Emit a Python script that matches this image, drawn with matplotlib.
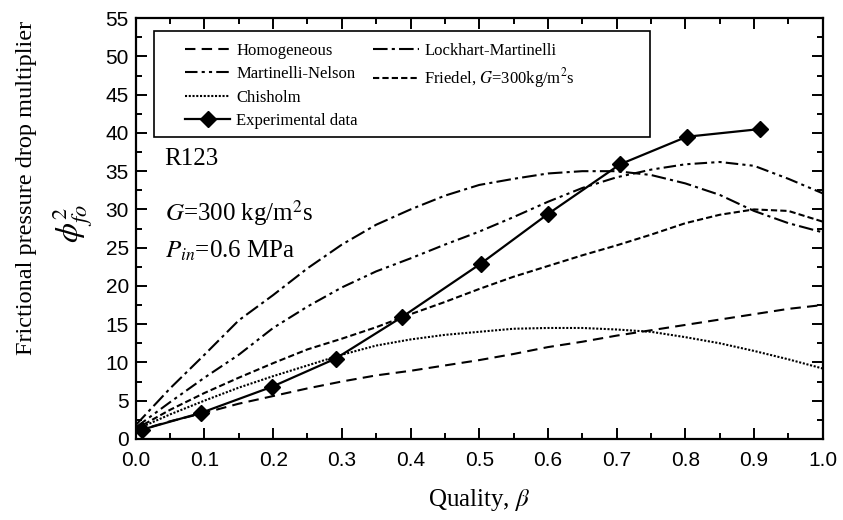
import matplotlib

matplotlib.use('Agg')
import matplotlib.pyplot as plt
from matplotlib.lines import Line2D
from matplotlib.patches import Rectangle
from matplotlib.ticker import MultipleLocator

# --- data ---

quality = [0.0, 0.05, 0.1, 0.15, 0.2, 0.25, 0.3, 0.35, 0.4, 0.45, 0.5,
           0.55, 0.6, 0.65, 0.7, 0.75, 0.8, 0.85, 0.9, 0.95, 1.0]

homogeneous = [1.0, 2.3, 3.4, 4.6, 5.6, 6.6, 7.5, 8.3, 8.9, 9.6, 10.3,
               11.1, 12.0, 12.7, 13.5, 14.2, 14.9, 15.6, 16.3, 17.0, 17.5]
lockhart_martinelli = [1.8, 6.6, 11.0, 15.5, 18.8, 22.3, 25.4, 28.0, 30.0, 31.8, 33.2,
                       34.0, 34.7, 35.0, 35.0, 34.5, 33.4, 31.9, 29.8, 28.2, 27.0]
martinelli_nelson = [1.5, 4.8, 8.0, 11.0, 14.5, 17.3, 19.8, 21.9, 23.6, 25.4, 27.1,
                     29.0, 31.0, 32.8, 34.2, 35.2, 35.9, 36.2, 35.7, 34.0, 32.1]
friedel = [1.3, 3.8, 6.0, 8.0, 9.9, 11.7, 13.1, 14.6, 16.3, 17.9, 19.6,
           21.2, 22.6, 24.0, 25.3, 26.7, 28.2, 29.3, 30.0, 29.8, 28.4]
chisholm = [1.2, 3.2, 5.0, 6.7, 8.2, 9.6, 11.0, 12.2, 13.0, 13.6, 14.0,
            14.4, 14.5, 14.5, 14.3, 14.0, 13.3, 12.5, 11.5, 10.4, 9.2]

exp_quality = [0.009, 0.095, 0.198, 0.291, 0.387, 0.502, 0.6, 0.705, 0.802, 0.908]
exp_phi = [1.2, 3.4, 6.8, 10.5, 15.9, 22.9, 29.4, 35.9, 39.5, 40.5]

plt.rcParams['mathtext.fontset'] = 'stix'
serif = ['Liberation Serif', 'DejaVu Serif']
sans = ['Liberation Sans', 'DejaVu Sans']

fig = plt.figure(figsize=(8.43, 5.2), dpi=100)
ax = fig.add_axes([0.161, 0.156, 0.815, 0.809])

lw = 1.5
l_hom, = ax.plot(quality, homogeneous, color='k', lw=lw, ls=(0, (5, 3)))
l_lm, = ax.plot(quality, lockhart_martinelli, color='k', lw=lw, ls=(0, (7, 2, 1.5, 2)))
l_mn, = ax.plot(quality, martinelli_nelson, color='k', lw=lw, ls=(0, (6, 2, 1.5, 2, 1.5, 2)))
l_fr, = ax.plot(quality, friedel, color='k', lw=lw, ls=(0, (3, 1.5)))
l_ch, = ax.plot(quality, chisholm, color='k', lw=lw, ls=(0, (1, 0.8)))
l_ex, = ax.plot(exp_quality, exp_phi, color='k', lw=1.6, marker='D', markersize=8.5)

ax.set_xlim(0, 1.0)
ax.set_ylim(0, 55)
ax.xaxis.set_major_locator(MultipleLocator(0.1))
ax.xaxis.set_minor_locator(MultipleLocator(0.05))
ax.yaxis.set_major_locator(MultipleLocator(5))
ax.yaxis.set_minor_locator(MultipleLocator(2.5))
ax.tick_params(which='both', direction='in', top=True, right=True, width=1.4)
ax.tick_params(which='major', length=8, labelsize=15)
ax.tick_params(axis='x', which='major', pad=9)
ax.tick_params(axis='y', which='major', pad=5)
ax.tick_params(which='minor', length=4)
ax.set_xticklabels([f'{v:.1f}' for v in ax.get_xticks()], family=sans)
ax.set_yticklabels([f'{int(v)}' for v in ax.get_yticks()], family=sans)
for s in ax.spines.values():
    s.set_linewidth(1.6)

# legend: four entries in the first column, two in the second, frame drawn separately
blank = Line2D([], [], color='none')
handles = [l_hom, l_mn, l_ch, l_ex, l_lm, l_fr, blank, blank]
labels = ['Homogeneous', 'Martinelli-Nelson', 'Chisholm', 'Experimental data',
          'Lockhart-Martinelli', r'Friedel, $G$=300kg/m$^2$s', '', '']
ax.legend(handles, labels, ncol=2, loc='upper left', bbox_to_anchor=(0.059, 0.962),
          prop={'family': serif, 'size': 12}, handlelength=2.75, handletextpad=0.35,
          columnspacing=0.9, labelspacing=0.45, borderpad=0, frameon=False)
ax.add_patch(Rectangle((0.026, 0.717), 0.722, 0.252, transform=ax.transAxes,
                       fill=False, edgecolor='k', lw=1.2, zorder=5))

ax.text(0.042, 35.8, 'R123', family=serif, fontsize=18)
ax.text(0.042, 28.5, r'$G$=300 kg/m$^2$s', family=serif, fontsize=18)
ax.text(0.042, 23.7, r'$P_{in}$=0.6 MPa', family=serif, fontsize=18)

ax.set_xlabel(r'Quality, $\beta$', family=serif, fontsize=18, labelpad=12)
fig.text(0.032, 0.638, 'Frictional pressure drop multiplier', family=serif, fontsize=17.5,
         rotation=90, ha='center', va='center')
fig.text(0.086, 0.57, r'$\phi^{2}_{fo}$', family=serif, fontsize=23,
         rotation=90, ha='center', va='center')

fig.savefig('out.png', dpi=100)
